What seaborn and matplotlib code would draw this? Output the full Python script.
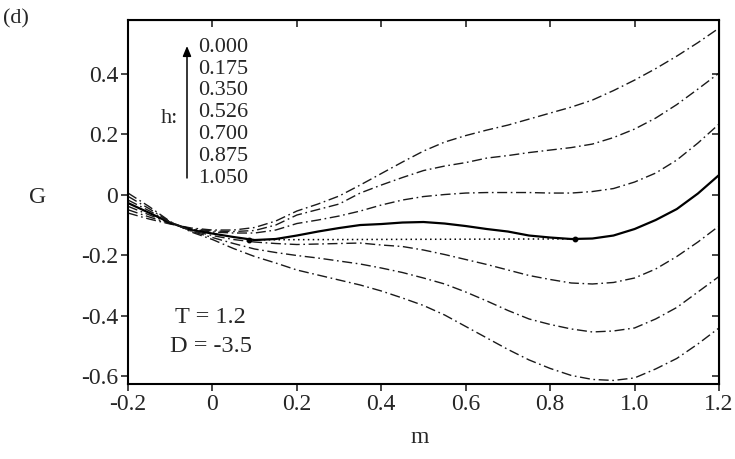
import pandas as pd
import seaborn as sns
import matplotlib.pyplot as plt
from matplotlib import font_manager

# order parameter grid
m = [-0.2, -0.15, -0.1, -0.05, 0.0, 0.05, 0.1, 0.15, 0.2, 0.25,
     0.3, 0.35, 0.4, 0.45, 0.5, 0.55, 0.6, 0.65, 0.7, 0.75,
     0.8, 0.85, 0.9, 0.95, 1.0, 1.05, 1.1, 1.15, 1.2]

# free energy curves, one per field value h
G_h000 = [-0.0605, -0.0803, -0.0969, -0.1101, -0.1167, -0.1167, -0.1084, -0.0869, -0.0539, -0.0307,
          -0.0043, 0.0321, 0.0701, 0.1081, 0.1445, 0.1742, 0.1957, 0.2139, 0.2304, 0.2502,
          0.2701, 0.2899, 0.3131, 0.3445, 0.3792, 0.4172, 0.4585, 0.5031, 0.5511]
G_h175 = [-0.0496, -0.0734, -0.0955, -0.1124, -0.1200, -0.1217, -0.1183, -0.1002, -0.0671, -0.0489,
          -0.0307, 0.0056, 0.0321, 0.0569, 0.0800, 0.0949, 0.1064, 0.1213, 0.1296, 0.1395,
          0.1478, 0.1560, 0.1676, 0.1891, 0.2172, 0.2536, 0.2982, 0.3494, 0.4023]
G_h350 = [-0.0383, -0.0664, -0.0942, -0.1144, -0.1233, -0.1266, -0.1266, -0.1167, -0.0952, -0.0836,
          -0.0704, -0.0539, -0.0340, -0.0175, -0.0060, 0.0007, 0.0056, 0.0073, 0.0073, 0.0073,
          0.0056, 0.0056, 0.0106, 0.0205, 0.0420, 0.0717, 0.1147, 0.1709, 0.2337]
G_h526 = [-0.0274, -0.0597, -0.0927, -0.1167, -0.1283, -0.1398, -0.1498, -0.1464, -0.1349, -0.1217,
          -0.1101, -0.1002, -0.0969, -0.0919, -0.0902, -0.0952, -0.1035, -0.1134, -0.1217, -0.1349,
          -0.1415, -0.1464, -0.1448, -0.1349, -0.1134, -0.0836, -0.0473, 0.0040, 0.0651]
G_h700 = [-0.0175, -0.0529, -0.0912, -0.1190, -0.1349, -0.1481, -0.1564, -0.1613, -0.1646, -0.1630,
          -0.1613, -0.1597, -0.1663, -0.1712, -0.1828, -0.1977, -0.2142, -0.2307, -0.2489, -0.2671,
          -0.2803, -0.2919, -0.2952, -0.2902, -0.2754, -0.2456, -0.2043, -0.1564, -0.1035]
G_h875 = [-0.0053, -0.0460, -0.0899, -0.1210, -0.1415, -0.1613, -0.1795, -0.1911, -0.2010, -0.2093,
          -0.2192, -0.2291, -0.2423, -0.2572, -0.2754, -0.2952, -0.3217, -0.3514, -0.3828, -0.4109,
          -0.4291, -0.4440, -0.4539, -0.4506, -0.4407, -0.4109, -0.3729, -0.3217, -0.2704]
G_h1050 = [0.0056, -0.0390, -0.0886, -0.1233, -0.1481, -0.1779, -0.2043, -0.2258, -0.2489, -0.2655,
           -0.2820, -0.2985, -0.3183, -0.3415, -0.3663, -0.3977, -0.4357, -0.4737, -0.5117, -0.5464,
           -0.5745, -0.5977, -0.6109, -0.6142, -0.6059, -0.5762, -0.5415, -0.4936, -0.4407]

h_labels = ["0.000", "0.175", "0.350", "0.526", "0.700", "0.875", "1.050"]
coexist_label = "0.526"

# common tangent (coexistence) points
tangent_m = [0.087, 0.858]
tangent_G = [-0.149, -0.146]

xticks = [-0.2, 0.0, 0.2, 0.4, 0.6, 0.8, 1.0, 1.2]
xtick_labels = ["-0.2", "0", "0.2", "0.4", "0.6", "0.8", "1.0", "1.2"]
yticks = [-0.6, -0.4, -0.2, 0.0, 0.2, 0.4]
ytick_labels = ["-0.6", "-0.4", "-0.2", "0", "0.2", "0.4"]

curves = [G_h000, G_h175, G_h350, G_h526, G_h700, G_h875, G_h1050]
rows = []
for lab, g in zip(h_labels, curves):
    for mi, gi in zip(m, g):
        rows.append({"h": lab, "m": mi, "G": gi})
df = pd.DataFrame(rows)

sns.set_style("ticks")
installed = {f.name for f in font_manager.fontManager.ttflist}
serif = next((n for n in ["Liberation Serif", "Nimbus Roman", "TeX Gyre Termes",
                          "STIXGeneral", "DejaVu Serif"] if n in installed), "serif")
plt.rcParams["font.family"] = [serif, "DejaVu Serif"]
plt.rcParams["axes.unicode_minus"] = False

W, H = 735, 459
fig = plt.figure(figsize=(W / 100, H / 100), dpi=100)
ax = fig.add_axes([128 / W, 1 - 384 / H, (719 - 128) / W, (384 - 20) / H])

dashdot = (0, (7.2, 2.6, 1.2, 2.6))
for lab in h_labels:
    sub = df[df["h"] == lab]
    if lab == coexist_label:
        sns.lineplot(data=sub, x="m", y="G", ax=ax, color="black", linewidth=1.6,
                     estimator=None, sort=False)
    else:
        sns.lineplot(data=sub, x="m", y="G", ax=ax, color="#1a1a1a", linewidth=1.0,
                     linestyle=dashdot, estimator=None, sort=False)

ax.plot(tangent_m, tangent_G, color="black", linewidth=1.1, linestyle=(0, (1, 2.2)))
ax.plot(tangent_m, tangent_G, "o", color="black", markersize=3.2)

ax.set_xlim(-0.2, 1.2)
ax.set_ylim(-0.626, 0.578)
ax.set_xticks(xticks)
ax.set_xticklabels(xtick_labels)
ax.set_yticks(yticks)
ax.set_yticklabels(ytick_labels)
ax.set_xlabel("")
ax.set_ylabel("")
ax.tick_params(axis="both", direction="out", length=5, width=1.2, labelsize=17, pad=2)

for s in ax.spines.values():
    s.set_visible(True)
    s.set_linewidth(1.5)
    s.set_color("black")

top = ax.secondary_xaxis("top")
top.set_xticks(xticks)
top.tick_params(direction="in", length=5, width=1.2, labeltop=False)
right = ax.secondary_yaxis("right")
right.set_yticks(yticks)
right.tick_params(direction="in", length=5, width=1.2, labelright=False)

def fx(px):
    return px / W

def fy(py):
    return 1 - py / H

fig.text(fx(38), fy(203), "G", fontsize=17, ha="center", va="baseline")
fig.text(fx(420), fy(443), "m", fontsize=17, ha="center", va="baseline")
fig.text(fx(3), fy(23), "(d)", fontsize=16, ha="left", va="baseline")

# field legend: arrow and values
for i, lab in enumerate(h_labels):
    fig.text(fx(198), fy(51.7 + 21.8 * i), lab, fontsize=16, ha="left", va="baseline")
fig.text(fx(161), fy(123), "h:", fontsize=16, ha="left", va="baseline")
ax.annotate("", xy=(fx(187), fy(46)), xytext=(fx(187), fy(178)),
            xycoords="figure fraction", textcoords="figure fraction",
            arrowprops=dict(arrowstyle="-|>,head_length=0.6,head_width=0.25",
                            color="black", lw=1.1, shrinkA=0, shrinkB=0))

fig.text(fx(210), fy(323), "T = 1.2", fontsize=17.5, ha="center", va="baseline")
fig.text(fx(211), fy(352), "D = -3.5", fontsize=17.5, ha="center", va="baseline")

fig.savefig("out.png", dpi=100)
plt.close(fig)
